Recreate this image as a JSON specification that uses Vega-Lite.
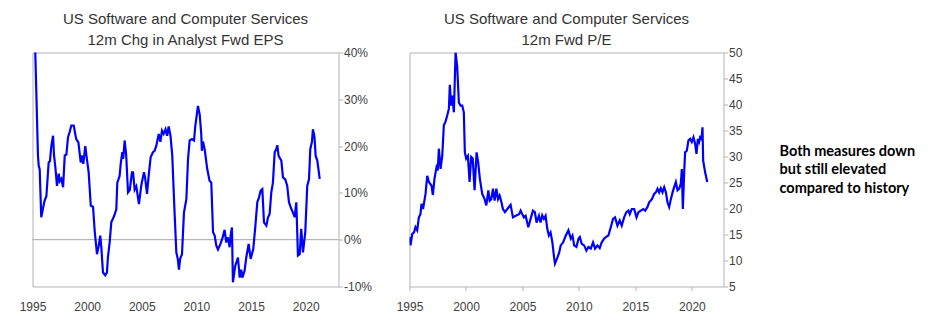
{
  "$schema": "https://vega.github.io/schema/vega-lite/v6.json",
  "background": "white",
  "padding": {"left": 18.5, "top": 11.5, "right": 5, "bottom": 5},
  "config": {
    "view": {"stroke": "#b3b3b3", "strokeWidth": 1},
    "font": "Liberation Sans",
    "title": {"font": "Liberation Sans", "fontSize": 15, "fontWeight": "normal", "color": "#333333", "lineHeight": 21, "offset": -1.5},
    "axis": {"labelFont": "Liberation Sans", "labelFontSize": 12, "labelColor": "#404040", "grid": false, "domain": false, "tickColor": "#b3b3b3", "title": null, "labelFlush": false}
  },
  "datasets": {
    "eps": [
      {"d":1995.2,"v":45},{"d":1995.5,"v":18},{"d":1995.57,"v":15.8},{"d":1995.66,"v":15},{"d":1995.8,"v":4.8},{"d":1996.1,"v":8.3},{"d":1996.27,"v":9.3},{"d":1996.48,"v":16.5},{"d":1996.6,"v":16.8},{"d":1996.72,"v":20},{"d":1996.88,"v":22.2},{"d":1996.97,"v":18},{"d":1997.09,"v":15.5},{"d":1997.24,"v":11.5},{"d":1997.4,"v":14.1},{"d":1997.5,"v":12.5},{"d":1997.64,"v":13},{"d":1997.8,"v":11.2},{"d":1997.95,"v":18},{"d":1998.1,"v":18.2},{"d":1998.25,"v":21.9},{"d":1998.4,"v":23},{"d":1998.55,"v":24.4},{"d":1998.77,"v":24.4},{"d":1999.0,"v":21.5},{"d":1999.2,"v":20.8},{"d":1999.41,"v":16.5},{"d":1999.5,"v":18},{"d":1999.65,"v":16.2},{"d":1999.83,"v":20},{"d":2000.0,"v":16.8},{"d":2000.14,"v":14.4},{"d":2000.33,"v":7.3},{"d":2000.54,"v":7},{"d":2000.69,"v":1.9},{"d":2000.9,"v":-3.1},{"d":2001.05,"v":-1.4},{"d":2001.2,"v":0.85},{"d":2001.3,"v":-1.7},{"d":2001.45,"v":-7},{"d":2001.66,"v":-7.6},{"d":2001.81,"v":-7},{"d":2001.9,"v":-3.8},{"d":2002.06,"v":-0.6},{"d":2002.21,"v":3.7},{"d":2002.46,"v":5},{"d":2002.67,"v":6.5},{"d":2002.76,"v":12.2},{"d":2002.97,"v":13.6},{"d":2003.07,"v":16.2},{"d":2003.22,"v":18.7},{"d":2003.3,"v":17.3},{"d":2003.43,"v":21.2},{"d":2003.57,"v":18.2},{"d":2003.74,"v":10.1},{"d":2003.9,"v":10.6},{"d":2004.1,"v":14.4},{"d":2004.2,"v":14.4},{"d":2004.35,"v":10.7},{"d":2004.5,"v":11.4},{"d":2004.74,"v":7.6},{"d":2004.96,"v":11.7},{"d":2005.2,"v":14.4},{"d":2005.3,"v":13.3},{"d":2005.48,"v":9.8},{"d":2005.63,"v":13.7},{"d":2005.81,"v":17.6},{"d":2006.02,"v":18.7},{"d":2006.17,"v":19},{"d":2006.33,"v":20.1},{"d":2006.55,"v":22.6},{"d":2006.7,"v":20.9},{"d":2006.85,"v":23.3},{"d":2007.0,"v":22.6},{"d":2007.17,"v":23.6},{"d":2007.32,"v":22.2},{"d":2007.46,"v":24.2},{"d":2007.63,"v":22.2},{"d":2007.79,"v":17.9},{"d":2008.0,"v":5.8},{"d":2008.16,"v":-2.7},{"d":2008.3,"v":-4.2},{"d":2008.4,"v":-6.4},{"d":2008.52,"v":-4},{"d":2008.68,"v":-3.1},{"d":2008.86,"v":5.8},{"d":2009.08,"v":8.7},{"d":2009.23,"v":17.2},{"d":2009.38,"v":21.2},{"d":2009.59,"v":21.5},{"d":2009.78,"v":21.2},{"d":2009.9,"v":24.4},{"d":2010.14,"v":28.6},{"d":2010.3,"v":26.7},{"d":2010.44,"v":22.6},{"d":2010.5,"v":19},{"d":2010.6,"v":21},{"d":2010.75,"v":19.4},{"d":2010.99,"v":15.1},{"d":2011.2,"v":12.6},{"d":2011.36,"v":12.2},{"d":2011.52,"v":1.6},{"d":2011.67,"v":0.9},{"d":2011.82,"v":-1.3},{"d":2011.97,"v":-2.1},{"d":2012.2,"v":-0.9},{"d":2012.4,"v":0.5},{"d":2012.58,"v":2.1},{"d":2012.73,"v":-0.6},{"d":2012.88,"v":0.5},{"d":2013.04,"v":-1.6},{"d":2013.13,"v":0.9},{"d":2013.25,"v":2.6},{"d":2013.34,"v":-9.1},{"d":2013.55,"v":-5.6},{"d":2013.8,"v":-3.8},{"d":2013.96,"v":-8.1},{"d":2014.1,"v":-6.4},{"d":2014.2,"v":-8.1},{"d":2014.41,"v":-6.6},{"d":2014.56,"v":-3.8},{"d":2014.78,"v":-0.9},{"d":2014.96,"v":-4.1},{"d":2015.2,"v":-2},{"d":2015.38,"v":2.6},{"d":2015.57,"v":8},{"d":2015.72,"v":9},{"d":2015.88,"v":10.5},{"d":2016.03,"v":10.8},{"d":2016.18,"v":3.7},{"d":2016.4,"v":3},{"d":2016.55,"v":4.8},{"d":2016.7,"v":5.5},{"d":2016.85,"v":10.1},{"d":2017.0,"v":12.2},{"d":2017.16,"v":18.7},{"d":2017.31,"v":19.4},{"d":2017.4,"v":20.2},{"d":2017.52,"v":17.9},{"d":2017.77,"v":16.9},{"d":2017.92,"v":13.3},{"d":2018.13,"v":12.9},{"d":2018.31,"v":11.5},{"d":2018.47,"v":8},{"d":2018.68,"v":6.6},{"d":2018.83,"v":5.8},{"d":2018.99,"v":4.8},{"d":2019.14,"v":8},{"d":2019.29,"v":-3.4},{"d":2019.45,"v":-3.1},{"d":2019.59,"v":2.3},{"d":2019.75,"v":-2.7},{"d":2019.96,"v":1.6},{"d":2020.14,"v":11.5},{"d":2020.3,"v":12.9},{"d":2020.42,"v":19.4},{"d":2020.57,"v":20.9},{"d":2020.66,"v":23.6},{"d":2020.8,"v":22},{"d":2020.91,"v":17.9},{"d":2021.06,"v":16.9},{"d":2021.28,"v":13}
    ],
    "pe": [
      {"d":1995.0,"v":14.5},{"d":1995.09,"v":12.9},{"d":1995.24,"v":15.1},{"d":1995.4,"v":15.4},{"d":1995.53,"v":16.4},{"d":1995.68,"v":15.8},{"d":1995.83,"v":18.3},{"d":1995.97,"v":18.9},{"d":1996.06,"v":20.9},{"d":1996.2,"v":19.9},{"d":1996.42,"v":22.8},{"d":1996.57,"v":26.3},{"d":1996.72,"v":25.1},{"d":1996.95,"v":24.4},{"d":1997.07,"v":22.6},{"d":1997.21,"v":25.7},{"d":1997.39,"v":27.9},{"d":1997.5,"v":27.3},{"d":1997.6,"v":31.5},{"d":1997.75,"v":27.6},{"d":1997.9,"v":30.1},{"d":1998.04,"v":36},{"d":1998.19,"v":36.7},{"d":1998.34,"v":37.9},{"d":1998.49,"v":39.2},{"d":1998.57,"v":43.8},{"d":1998.69,"v":39.8},{"d":1998.78,"v":41.7},{"d":1998.93,"v":38.5},{"d":1999.08,"v":50},{"d":1999.22,"v":47.4},{"d":1999.37,"v":40.4},{"d":1999.52,"v":39.8},{"d":1999.67,"v":39.8},{"d":1999.81,"v":38.5},{"d":1999.9,"v":30.8},{"d":2000.02,"v":29.6},{"d":2000.17,"v":30.1},{"d":2000.32,"v":25.1},{"d":2000.46,"v":29.9},{"d":2000.6,"v":29.6},{"d":2000.76,"v":23.5},{"d":2000.94,"v":30.8},{"d":2001.08,"v":28.9},{"d":2001.23,"v":25.7},{"d":2001.44,"v":22.8},{"d":2001.65,"v":21.8},{"d":2001.8,"v":20.6},{"d":2001.98,"v":23.5},{"d":2002.1,"v":21.5},{"d":2002.24,"v":21.8},{"d":2002.39,"v":23.8},{"d":2002.54,"v":21.5},{"d":2002.69,"v":23.8},{"d":2002.84,"v":21.8},{"d":2002.98,"v":22.5},{"d":2003.13,"v":21.3},{"d":2003.27,"v":19.9},{"d":2003.45,"v":19.3},{"d":2003.66,"v":19.9},{"d":2003.95,"v":20.7},{"d":2004.16,"v":18.3},{"d":2004.4,"v":18.6},{"d":2004.7,"v":18.9},{"d":2004.84,"v":19.6},{"d":2004.99,"v":18.9},{"d":2005.13,"v":18.3},{"d":2005.28,"v":18.6},{"d":2005.52,"v":16.4},{"d":2005.72,"v":18},{"d":2005.93,"v":19.6},{"d":2006.1,"v":19.3},{"d":2006.25,"v":17.3},{"d":2006.46,"v":18.6},{"d":2006.6,"v":17.3},{"d":2006.75,"v":18.7},{"d":2006.9,"v":18},{"d":2007.05,"v":18.6},{"d":2007.2,"v":16.1},{"d":2007.34,"v":14.8},{"d":2007.49,"v":15.4},{"d":2007.65,"v":13.5},{"d":2007.8,"v":10.6},{"d":2007.88,"v":9.4},{"d":2008.1,"v":10.6},{"d":2008.25,"v":11.5},{"d":2008.39,"v":12.9},{"d":2008.6,"v":13.5},{"d":2008.84,"v":14.8},{"d":2009.07,"v":15.8},{"d":2009.28,"v":14.2},{"d":2009.43,"v":14.8},{"d":2009.58,"v":12.9},{"d":2009.78,"v":12.6},{"d":2009.96,"v":14.2},{"d":2010.08,"v":14.5},{"d":2010.25,"v":13.2},{"d":2010.46,"v":12.9},{"d":2010.66,"v":11.9},{"d":2010.84,"v":12.6},{"d":2011.05,"v":12.3},{"d":2011.25,"v":13.5},{"d":2011.43,"v":12.3},{"d":2011.64,"v":12.9},{"d":2011.84,"v":12.4},{"d":2012.02,"v":13.5},{"d":2012.23,"v":14.2},{"d":2012.38,"v":14.5},{"d":2012.61,"v":14.8},{"d":2012.82,"v":16.4},{"d":2013.02,"v":18},{"d":2013.2,"v":18.3},{"d":2013.41,"v":16.7},{"d":2013.61,"v":17.7},{"d":2013.79,"v":16.7},{"d":2014.0,"v":18.3},{"d":2014.2,"v":19.3},{"d":2014.38,"v":19.6},{"d":2014.5,"v":18.9},{"d":2014.68,"v":19.9},{"d":2014.89,"v":19.9},{"d":2015.1,"v":18.3},{"d":2015.27,"v":19.3},{"d":2015.48,"v":19.6},{"d":2015.69,"v":19.9},{"d":2015.87,"v":19.6},{"d":2016.07,"v":20.3},{"d":2016.22,"v":21.2},{"d":2016.46,"v":21.8},{"d":2016.66,"v":22.8},{"d":2016.81,"v":23.1},{"d":2016.96,"v":23.8},{"d":2017.1,"v":23.1},{"d":2017.25,"v":23.9},{"d":2017.4,"v":23.1},{"d":2017.55,"v":24.1},{"d":2017.7,"v":23.1},{"d":2017.84,"v":21.2},{"d":2017.99,"v":20.3},{"d":2018.14,"v":21.8},{"d":2018.29,"v":23.1},{"d":2018.43,"v":24.1},{"d":2018.58,"v":25.1},{"d":2018.73,"v":23.5},{"d":2018.88,"v":23.8},{"d":2019.02,"v":24.8},{"d":2019.11,"v":27.6},{"d":2019.2,"v":19.9},{"d":2019.32,"v":27},{"d":2019.4,"v":30.8},{"d":2019.55,"v":31.1},{"d":2019.7,"v":33.1},{"d":2019.85,"v":33.4},{"d":2019.99,"v":32.8},{"d":2020.14,"v":33.7},{"d":2020.29,"v":32.4},{"d":2020.41,"v":30.5},{"d":2020.53,"v":33.4},{"d":2020.64,"v":32.8},{"d":2020.76,"v":34},{"d":2020.85,"v":33.1},{"d":2020.94,"v":35.6},{"d":2021.0,"v":29.2},{"d":2021.17,"v":27},{"d":2021.36,"v":25.1}
    ],
    "zero": [{"z": 0}],
    "note": [{"row": 1, "line": "Both measures down"}, {"row": 2, "line": "but still elevated"}, {"row": 3, "line": "compared to history"}]
  },
  "bounds": "flush",
  "spacing": 71,
  "hconcat": [
    {
      "width": 306,
      "height": 234,
      "title": {"text": ["US Software and Computer Services", "12m Chg in Analyst Fwd EPS"]},
      "layer": [
        {
          "data": {"name": "zero"},
          "mark": {"type": "rule", "color": "#a6a6a6", "strokeWidth": 1},
          "encoding": {"y": {"field": "z", "type": "quantitative"}}
        },
        {
          "data": {"name": "eps"},
          "mark": {"type": "line", "color": "#0000ff", "strokeWidth": 2.2, "clip": true},
          "encoding": {
            "x": {"field": "d", "type": "quantitative", "scale": {"domain": [1995, 2023], "nice": false, "zero": false},
                  "axis": {"values": [1995, 2000, 2005, 2010, 2015, 2020], "format": "d", "ticks": false, "labelPadding": 15}},
            "y": {"field": "v", "type": "quantitative", "scale": {"domain": [-10, 40], "nice": false},
                  "axis": {"orient": "right", "values": [-10, -5, 0, 5, 10, 15, 20, 25, 30, 35, 40], "labelExpr": "datum.value + '%'", "tickSize": 4, "labelPadding": 1}}
          }
        }
      ]
    },
    {
      "width": 314,
      "height": 234,
      "title": {"text": ["US Software and Computer Services", "12m Fwd P/E"]},
      "data": {"name": "pe"},
      "mark": {"type": "line", "color": "#0000ff", "strokeWidth": 2.2, "clip": true},
      "encoding": {
        "x": {"field": "d", "type": "quantitative", "scale": {"domain": [1995, 2022.8], "nice": false, "zero": false},
              "axis": {"values": [1995, 2000, 2005, 2010, 2015, 2020], "format": "d", "tickSize": 4, "labelPadding": 11}},
        "y": {"field": "v", "type": "quantitative", "scale": {"domain": [5, 50], "nice": false, "zero": false},
              "axis": {"orient": "right", "values": [5, 10, 15, 20, 25, 30, 35, 40, 45, 50], "tickSize": 4, "labelPadding": 1}}
      }
    },
    {
      "width": 150,
      "height": 234,
      "view": {"stroke": null},
      "data": {"name": "note"},
      "mark": {"type": "text", "align": "left", "baseline": "middle", "font": "Lato", "fontWeight": "bold", "fontSize": 14.5, "color": "#000000"},
      "encoding": {
        "x": {"value": -15},
        "y": {"field": "row", "type": "quantitative", "scale": {"domain": [-4.36, 8.29], "reverse": true, "nice": false, "zero": false}, "axis": null},
        "text": {"field": "line"}
      }
    }
  ]
}
